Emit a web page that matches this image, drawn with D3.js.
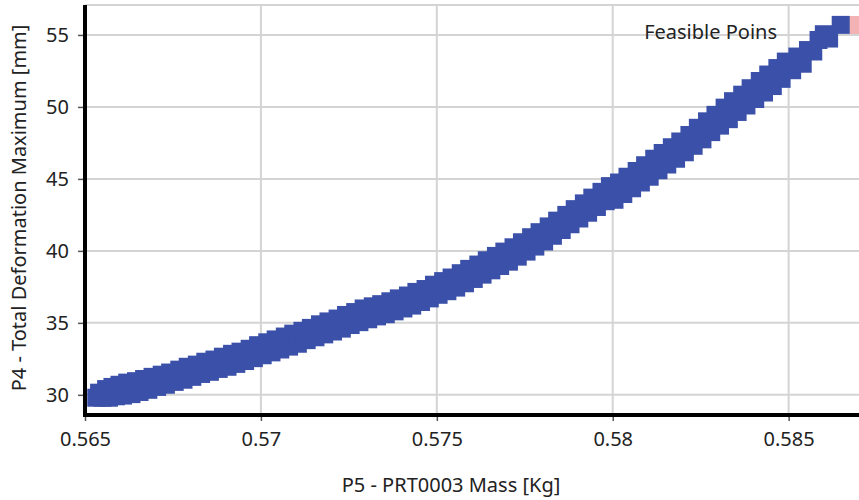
<!DOCTYPE html>
<html>
<head>
<meta charset="utf-8">
<script src="https://cdn.jsdelivr.net/npm/d3@7"></script>
<style>
    body { margin: 0; background: #ffffff; }
    svg { display: block; }
</style>
</head>
<body>
<svg id="chart" width="859" height="500"></svg>
<script>

var xTicks = [0.565, 0.57, 0.575, 0.58, 0.585]
var xTickLabels = ["0.565", "0.57", "0.575", "0.58", "0.585"]
var yTicks = [30, 35, 40, 45, 50, 55]

var xTitle = "P5 - PRT0003 Mass [Kg]"
var yTitle = "P4 - Total Deformation Maximum [mm]"
var legendLabel = "Feasible Poins"

var massKg = [
    0.56532, 0.56540, 0.56550, 0.56560, 0.56568, 0.56578, 0.56588, 0.56598, 0.56608, 0.56620,
    0.56632, 0.56645, 0.56655, 0.56668, 0.56680, 0.56692, 0.56705, 0.56718, 0.56730, 0.56742,
    0.56755, 0.56768, 0.56780, 0.56792, 0.56805, 0.56818, 0.56830, 0.56842, 0.56855, 0.56868,
    0.56880, 0.56892, 0.56905, 0.56918, 0.56930, 0.56942, 0.56955, 0.56968, 0.56980, 0.56992,
    0.57005, 0.57018, 0.57030, 0.57042, 0.57055, 0.57068, 0.57080, 0.57092, 0.57105, 0.57118,
    0.57130, 0.57142, 0.57155, 0.57168, 0.57180, 0.57192, 0.57205, 0.57218, 0.57230, 0.57242,
    0.57255, 0.57268, 0.57280, 0.57292, 0.57305, 0.57318, 0.57330, 0.57342, 0.57355, 0.57368,
    0.57380, 0.57392, 0.57405, 0.57418, 0.57430, 0.57442, 0.57455, 0.57468, 0.57480, 0.57492,
    0.57505, 0.57518, 0.57530, 0.57542, 0.57555, 0.57568, 0.57580, 0.57592, 0.57605, 0.57618,
    0.57630, 0.57642, 0.57655, 0.57668, 0.57680, 0.57692, 0.57705, 0.57718, 0.57730, 0.57742,
    0.57755, 0.57768, 0.57780, 0.57792, 0.57805, 0.57818, 0.57830, 0.57842, 0.57855, 0.57868,
    0.57880, 0.57892, 0.57905, 0.57918, 0.57930, 0.57942, 0.57955, 0.57968, 0.57980, 0.57992,
    0.58005, 0.58018, 0.58030, 0.58042, 0.58055, 0.58068, 0.58080, 0.58092, 0.58105, 0.58118,
    0.58130, 0.58142, 0.58155, 0.58168, 0.58180, 0.58192, 0.58205, 0.58218, 0.58230, 0.58242,
    0.58255, 0.58268, 0.58280, 0.58292, 0.58305, 0.58318, 0.58330, 0.58342, 0.58355, 0.58368,
    0.58380, 0.58392, 0.58405, 0.58418, 0.58430, 0.58442, 0.58455, 0.58468, 0.58480, 0.58492,
    0.58510, 0.58525, 0.58540, 0.58555, 0.58570, 0.58585, 0.58600, 0.58615, 0.58648
]

var deformationMm = [
    29.80, 30.15, 29.80, 30.40, 29.80, 30.55, 29.90, 30.70, 29.95, 30.85,
    30.05, 30.95, 30.20, 31.10, 30.35, 31.25, 30.55, 31.40, 30.70, 31.55,
    30.90, 31.75, 31.05, 31.95, 31.25, 32.10, 31.45, 32.30, 31.60, 32.45,
    31.80, 32.65, 31.95, 32.85, 32.15, 33.00, 32.35, 33.20, 32.55, 33.45,
    32.75, 33.65, 32.95, 33.85, 33.15, 34.05, 33.35, 34.25, 33.55, 34.45,
    33.80, 34.65, 34.00, 34.90, 34.20, 35.10, 34.40, 35.30, 34.60, 35.55,
    34.85, 35.75, 35.05, 36.00, 35.25, 36.15, 35.45, 36.30, 35.60, 36.50,
    35.80, 36.70, 36.00, 36.90, 36.20, 37.15, 36.45, 37.35, 36.70, 37.65,
    36.95, 37.90, 37.20, 38.15, 37.45, 38.45, 37.75, 38.75, 38.05, 39.05,
    38.35, 39.35, 38.65, 39.65, 38.95, 39.95, 39.25, 40.25, 39.60, 40.60,
    39.95, 40.95, 40.30, 41.30, 40.65, 41.70, 41.05, 42.10, 41.45, 42.50,
    41.85, 42.90, 42.25, 43.30, 42.65, 43.70, 43.05, 44.10, 43.45, 44.50,
    43.55, 44.75, 43.95, 45.15, 44.35, 45.55, 44.75, 45.95, 45.15, 46.40,
    45.60, 46.80, 46.00, 47.20, 46.40, 47.60, 46.85, 48.05, 47.30, 48.55,
    47.75, 49.00, 48.25, 49.45, 48.70, 49.95, 49.15, 50.40, 49.65, 50.85,
    50.10, 51.30, 50.55, 51.80, 51.00, 52.25, 51.45, 52.70, 51.95, 53.15,
    52.55, 53.50, 53.00, 53.95, 53.85, 54.65, 55.05, 54.75, 55.70
]

var configuration = {
    plotLeft: 85,
    plotTop: 5,
    plotRight: 859,
    plotBottom: 415,
    markerSize: 18,
    markerColor: "#3b51a9",
    legendColor: "#f3b3b5",
    gridColor: "#d4d4d4",
    textColor: "#222",
    fontSize: 20,
    font: "'Noto Sans', 'Open Sans', sans-serif"
}

function ScatterChartBuilder(configuration) {

    var x = d3.scaleLinear()
        .domain([0.565, 0.587])
        .range([configuration.plotLeft, configuration.plotRight])

    var y = d3.scaleLinear()
        .domain([28.6, 57.08])
        .range([configuration.plotBottom, configuration.plotTop])

    function styleText(selection) {
        return selection
            .attr("font-family", configuration.font)
            .attr("font-size", configuration.fontSize)
            .attr("fill", configuration.textColor)
    }

    function gridLineStyle() {
        return "stroke: " + configuration.gridColor + "; stroke-width: 2"
    }

    function drawGrid(container) {
        var grid = container.append("g").attr("id", "grid")

        grid.selectAll("line.vertical")
            .data(xTicks.slice(1))
            .enter().append("line")
            .attr("class", "vertical")
            .attr("x1", function (d) { return x(d) })
            .attr("x2", function (d) { return x(d) })
            .attr("y1", configuration.plotTop)
            .attr("y2", configuration.plotBottom)
            .attr("style", gridLineStyle())

        grid.selectAll("line.horizontal")
            .data(yTicks)
            .enter().append("line")
            .attr("class", "horizontal")
            .attr("x1", configuration.plotLeft)
            .attr("x2", configuration.plotRight)
            .attr("y1", function (d) { return y(d) })
            .attr("y2", function (d) { return y(d) })
            .attr("style", gridLineStyle())

        // top border of the plot area
        grid.append("line")
            .attr("x1", configuration.plotLeft)
            .attr("x2", configuration.plotRight)
            .attr("y1", configuration.plotTop)
            .attr("y2", configuration.plotTop)
            .attr("style", gridLineStyle())
    }

    function drawLegend(container) {
        container.append("rect")
            .attr("x", 849)
            .attr("y", 16)
            .attr("width", configuration.markerSize)
            .attr("height", configuration.markerSize)
            .attr("fill", configuration.legendColor)

        container.append("text")
            .attr("x", 777)
            .attr("y", 39)
            .attr("text-anchor", "end")
            .call(styleText)
            .text(legendLabel)
    }

    function drawPoints(container) {
        var half = configuration.markerSize / 2
        container.append("g").attr("id", "points")
            .selectAll("rect")
            .data(d3.range(massKg.length))
            .enter().append("rect")
            .attr("x", function (i) { return x(massKg[i]) - half })
            .attr("y", function (i) { return y(deformationMm[i]) - half })
            .attr("width", configuration.markerSize)
            .attr("height", configuration.markerSize)
            .attr("fill", configuration.markerColor)
    }

    function drawAxes(container) {
        var xAxis = d3.axisBottom(x)
            .tickValues(xTicks)
            .tickFormat(function (d, i) { return xTickLabels[i] })
            .tickSize(6)
            .tickPadding(11)

        var yAxis = d3.axisLeft(y)
            .tickValues(yTicks)
            .tickSize(7)
            .tickPadding(9)

        var gx = container.append("g")
            .attr("transform", "translate(0," + configuration.plotBottom + ")")
            .call(xAxis)

        var gy = container.append("g")
            .attr("transform", "translate(" + configuration.plotLeft + ",0)")
            .call(yAxis)

        ;[gx, gy].forEach(function (g) {
            g.select(".domain").remove()
            g.selectAll(".tick line").attr("stroke", "#555").attr("stroke-width", 1.5)
            g.selectAll(".tick text").call(styleText)
        })

        // thick axis lines
        container.append("line")
            .attr("x1", configuration.plotLeft)
            .attr("x2", configuration.plotLeft)
            .attr("y1", configuration.plotTop)
            .attr("y2", configuration.plotBottom + 2)
            .attr("style", "stroke: #000; stroke-width: 4")

        container.append("line")
            .attr("x1", configuration.plotLeft - 2)
            .attr("x2", configuration.plotRight)
            .attr("y1", configuration.plotBottom)
            .attr("y2", configuration.plotBottom)
            .attr("style", "stroke: #000; stroke-width: 4")
    }

    function drawTitles(container) {
        container.append("text")
            .attr("x", 451)
            .attr("y", 492)
            .attr("text-anchor", "middle")
            .call(styleText)
            .text(xTitle)

        container.append("text")
            .attr("transform", "translate(26,208) rotate(-90)")
            .attr("text-anchor", "middle")
            .call(styleText)
            .text(yTitle)
    }

    this.draw = function (svgContainer) {
        var mainContainer = svgContainer.append("g").attr("id", "scatterChart")
        drawGrid(mainContainer)
        drawLegend(mainContainer)
        drawPoints(mainContainer)
        drawAxes(mainContainer)
        drawTitles(mainContainer)
    }
}

new ScatterChartBuilder(configuration).draw(d3.select("#chart"))

</script>
</body>
</html>
